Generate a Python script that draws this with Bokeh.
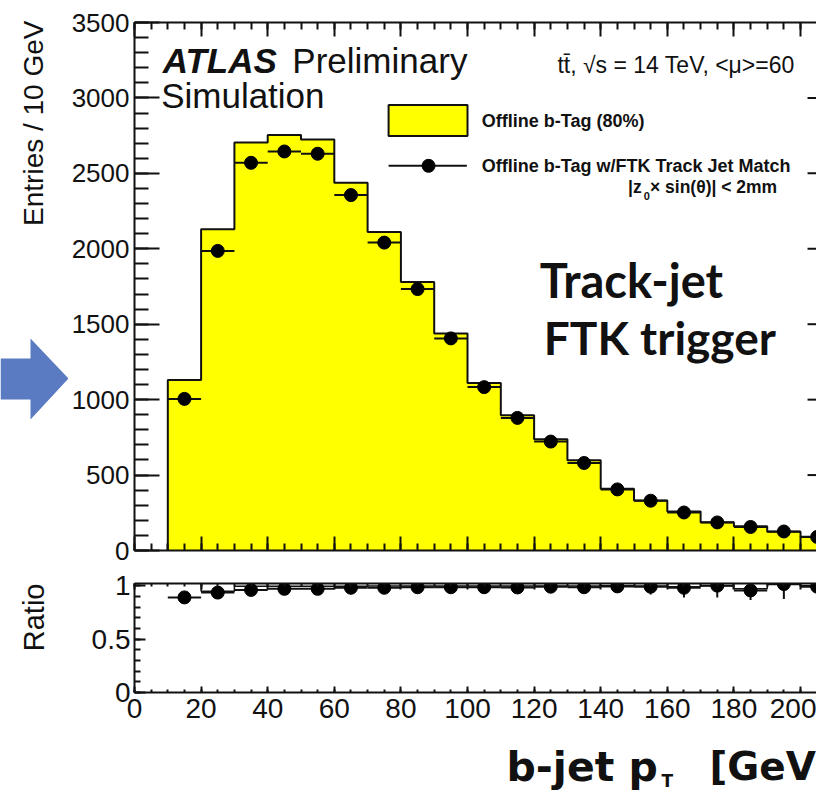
import numpy as np
from bokeh.plotting import figure
from bokeh.layouts import column, row
from bokeh.models import Range1d, SingleIntervalTicker, LinearAxis, Label
from bokeh.embed import file_html
from bokeh.resources import INLINE

# ---- data: b-jet pT spectrum, 10 GeV bins ----
bin_lo = [10, 20, 30, 40, 50, 60, 70, 80, 90, 100,
          110, 120, 130, 140, 150, 160, 170, 180, 190, 200]
bin_width = 10
offline_btag = [1130, 2130, 2705, 2755, 2725, 2437, 2112, 1780, 1439, 1111,
                897, 737, 598, 410, 331, 259, 188, 161, 124, 91]
ftk_matched = [1005, 1986, 2570, 2645, 2630, 2356, 2041, 1733, 1406, 1083,
               879, 722, 580, 405, 330, 252, 186, 156, 126, 90]

# ratio panel
ratio_vals = [0.89, 0.935, 0.96, 0.97, 0.97, 0.98, 0.98, 0.985, 0.985, 0.985,
              0.983, 0.99, 0.985, 0.993, 0.99, 0.98, 1.0, 0.955, 1.015, 0.99]
ratio_err = [0.01, 0.01, 0.01, 0.01, 0.01, 0.01, 0.015, 0.015, 0.02, 0.02,
             0.025, 0.03, 0.035, 0.05, 0.073, 0.09, 0.11, 0.09, 0.14, 0.145]
ratio_step = [1.03, 0.948, 0.995, 0.995, 0.995, 0.995, 0.997, 0.997, 0.997, 0.997,
              0.997, 0.997, 0.997, 1.0, 0.997, 0.99, 1.0, 0.97, 1.01, 1.0]

lo = np.array(bin_lo, dtype=float)
hi = lo + bin_width
mid = lo + bin_width / 2

FONT = "Liberation Sans"
GOTHIC = "Lato"
WIDE_BOLD = "DejaVu Sans"
INK = "#111111"
YELLOW = "#ffff00"

STRIP_W = 68          # left strip holding the rotated axis titles
PLOT_W = 816 - STRIP_W
X_MAX = 204.8
x_range = Range1d(0, X_MAX)
PX_PER_GEV = (PLOT_W - (132 - STRIP_W)) / X_MAX


def step_path(values, closed):
    xs, ys = [], []
    if closed:
        xs.append(lo[0]); ys.append(0)
    for a, b, v in zip(lo, hi, values):
        xs += [a, b]
        ys += [v, v]
    if closed:
        xs.append(hi[-1]); ys.append(0)
    return xs, ys


def style_axis(ax, major_in, minor_in, size, labels=True, standoff=6):
    ax.axis_line_width = 2
    ax.axis_line_color = INK
    ax.major_tick_in = major_in
    ax.major_tick_out = 0
    ax.minor_tick_in = minor_in
    ax.minor_tick_out = 0
    ax.major_tick_line_width = 2
    ax.minor_tick_line_width = 2
    ax.major_tick_line_color = INK
    ax.minor_tick_line_color = INK
    ax.major_label_text_font = FONT
    if labels:
        ax.major_label_text_color = INK
        ax.major_label_text_font_size = f"{size}px"
        ax.major_label_standoff = standoff
    else:
        ax.major_label_text_color = None
        ax.major_label_text_font_size = "1px"
        ax.major_label_standoff = 0


def bare(fig):
    fig.outline_line_color = None
    fig.grid.visible = False
    fig.background_fill_color = "white"
    fig.border_fill_color = "white"


def add_text(fig, x, y, text, size, style="normal", font=FONT, align="left",
             baseline="middle", angle=0.0, color=INK):
    fig.add_layout(Label(x=x, y=y, text=text, text_font=font,
                         text_font_size=f"{size}px", text_font_style=style,
                         text_align=align, text_baseline=baseline,
                         angle=angle, text_color=color))


# ================= main panel =================
p = figure(width=PLOT_W, height=562, x_range=x_range, y_range=Range1d(0, 3500),
           output_backend="svg", toolbar_location=None,
           x_axis_location=None, y_axis_location=None,
           min_border_left=132 - STRIP_W, min_border_right=0,
           min_border_top=22, min_border_bottom=12)
bare(p)

yax = LinearAxis(ticker=SingleIntervalTicker(interval=500, num_minor_ticks=5))
style_axis(yax, 25, 14, 26, standoff=5)
p.add_layout(yax, "left")

xax_top = LinearAxis(ticker=SingleIntervalTicker(interval=20, num_minor_ticks=4))
style_axis(xax_top, 14, 7, 0, labels=False)
p.add_layout(xax_top, "above")

xax_bot = LinearAxis(ticker=SingleIntervalTicker(interval=20, num_minor_ticks=4))
style_axis(xax_bot, 14, 7, 0, labels=False)
p.add_layout(xax_bot, "below")

# right-hand frame edge lies just past the page edge: only the tips of its
# 25 px major ticks reach into view
right_edge = X_MAX + 16 / PX_PER_GEV
y_major = np.arange(500, 3500, 500)
p.segment(x0=right_edge - 25 / PX_PER_GEV, x1=right_edge, y0=y_major, y1=y_major,
          line_color=INK, line_width=2)

# offline b-tag histogram: yellow fill plus outline
ox, oy = step_path(offline_btag, True)
p.patch(ox, oy, fill_color=YELLOW, line_color=None)
p.line(ox, oy, line_color=INK, line_width=2)

# FTK matched points with bin-width bars
p.segment(x0=lo, x1=hi, y0=ftk_matched, y1=ftk_matched,
          line_color=INK, line_width=2)
p.scatter(mid, ftk_matched, size=13, marker="circle",
          fill_color="black", line_color="black")

# legend
p.quad(left=[76.3], right=[100.0], bottom=[2747], top=[2953],
       fill_color=YELLOW, line_color=INK, line_width=2)
p.line([76.3, 99.8], [2550, 2550], line_color=INK, line_width=2)
p.scatter([88.3], [2550], size=13, marker="circle",
          fill_color="black", line_color="black")

add_text(p, 104.3, 2849, "Offline b-Tag (80%)", 18, "bold")
add_text(p, 104.3, 2550, "Offline b-Tag w/FTK Track Jet Match", 18, "bold")
add_text(p, 148.2, 2408, "|z", 17.5, "bold")
add_text(p, 152.9, 2347, "0", 11, "bold")
add_text(p, 154.8, 2408, "\u00d7 sin(\u03b8)| < 2mm", 17.5, "bold")

add_text(p, 8.5, 3251, "ATLAS", 35, "bold italic")
add_text(p, 47.4, 3251, "Preliminary", 35)
add_text(p, 8.0, 3019, "Simulation", 35)
add_text(p, 127.0, 3221, "tt\u0304, \u221as = 14 TeV, <\u03bc>=60", 23)

add_text(p, 121.7, 1793, "Track-jet", 47, "bold", font=GOTHIC)
add_text(p, 122.9, 1415, "FTK trigger", 46, "bold", font=GOTHIC)

# ================= ratio panel =================
r = figure(width=PLOT_W, height=170, x_range=x_range, y_range=Range1d(0, 1.02),
           output_backend="svg", toolbar_location=None,
           x_axis_location=None, y_axis_location=None,
           min_border_left=132 - STRIP_W, min_border_right=0,
           min_border_top=21, min_border_bottom=40)
bare(r)

ryax = LinearAxis(ticker=SingleIntervalTicker(interval=0.5, num_minor_ticks=5))
style_axis(ryax, 11, 6, 28, standoff=4)
ryax.major_label_overrides = {0: "0", 0.5: "0.5", 1: "1"}
r.add_layout(ryax, "left")

rxax = LinearAxis(ticker=SingleIntervalTicker(interval=20, num_minor_ticks=4))
style_axis(rxax, 6, 3, 28, standoff=6)
r.add_layout(rxax, "below")

rxax_top = LinearAxis(ticker=SingleIntervalTicker(interval=20, num_minor_ticks=4))
style_axis(rxax_top, 6, 3, 0, labels=False)
r.add_layout(rxax_top, "above")

sx, sy = step_path(ratio_step, False)
r.line(sx, sy, line_color=INK, line_width=1.5)

rv = np.array(ratio_vals)
re = np.array(ratio_err)
r.segment(x0=mid, x1=mid, y0=rv - re, y1=rv + re, line_color=INK, line_width=2)
r.segment(x0=lo, x1=hi, y0=rv, y1=rv, line_color=INK, line_width=2)
r.scatter(mid, rv, size=13, marker="circle", fill_color="black",
          line_color="black")

# ================= x-axis title strip (page pixel coordinates) =================
xt = figure(width=PLOT_W, height=793 - 562 - 170,
            x_range=Range1d(STRIP_W, 816), y_range=Range1d(793, 732),
            output_backend="svg", toolbar_location=None,
            x_axis_location=None, y_axis_location=None,
            min_border_left=0, min_border_right=0,
            min_border_top=0, min_border_bottom=0, frame_align=False)
bare(xt)
add_text(xt, 506, 766, "b-jet p", 41, "bold", font=WIDE_BOLD)
add_text(xt, 661, 780, "T", 17, "bold", font=WIDE_BOLD)
add_text(xt, 709, 766, "[GeV]", 39, "bold", font=WIDE_BOLD)

# ================= left strip: y-axis titles and pointer arrow =================
ls = figure(width=STRIP_W, height=793,
            x_range=Range1d(0, STRIP_W), y_range=Range1d(793, 0),
            output_backend="svg", toolbar_location=None,
            x_axis_location=None, y_axis_location=None,
            min_border_left=0, min_border_right=0,
            min_border_top=0, min_border_bottom=0, frame_align=False)
bare(ls)
ls.patch([0, 30, 30, 68, 30, 30, 0], [358, 358, 338, 378, 419, 399, 399],
         fill_color="#5a7ac2", line_color=None)
add_text(ls, 32.5, 20, "Entries / 10 GeV", 28, align="right", angle=np.pi / 2)
add_text(ls, 33.5, 583, "Ratio", 29, align="right", angle=np.pi / 2)

layout = row(ls, column(p, r, xt, spacing=0), spacing=0)
open("out.html", "w").write(file_html(layout, INLINE))
